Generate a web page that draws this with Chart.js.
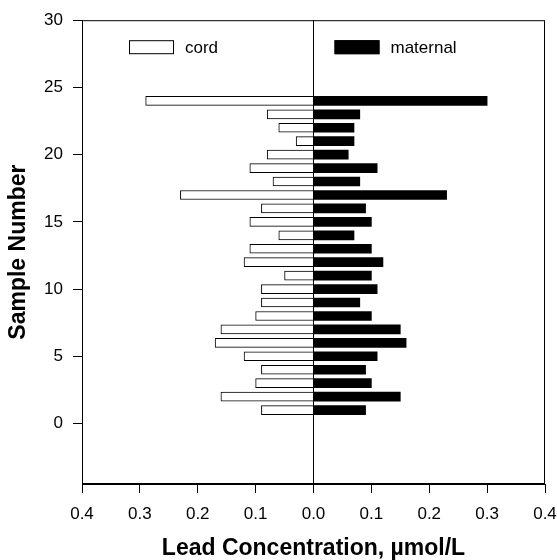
<!DOCTYPE html>
<html>
<head>
<meta charset="utf-8">
<script src="https://cdn.jsdelivr.net/npm/chart.js@4"></script>
<style>
  body { margin: 0; background: #fff; }
  #wrap { width: 557px; height: 560px; }
</style>
</head>
<body>
<div id="wrap"><canvas id="leadChart" width="557" height="560"></canvas></div>
<script>
// Cord vs maternal blood lead, one row per sample
const samples = [1, 2, 3, 4, 5, 6, 7, 8, 9, 10, 11, 12, 13, 14, 15, 16, 17, 18, 19, 20, 21, 22, 23, 24];
const cordLead = [0.09, 0.16, 0.10, 0.09, 0.12, 0.17, 0.16, 0.10, 0.09, 0.09, 0.05, 0.12,
  0.11, 0.06, 0.11, 0.09, 0.23, 0.07, 0.11, 0.08, 0.03, 0.06, 0.08, 0.29];
const maternalLead = [0.09, 0.15, 0.10, 0.09, 0.11, 0.16, 0.15, 0.10, 0.08, 0.11, 0.10, 0.12,
  0.10, 0.07, 0.10, 0.09, 0.23, 0.08, 0.11, 0.06, 0.07, 0.07, 0.08, 0.30];
const yTicks = [0, 5, 10, 15, 20, 25, 30];

const FONT = "'Liberation Sans', Arial, Helvetica, sans-serif";

// frame round the plot + legend boxes inside the plot
const framePlugin = {
  id: "frame",
  afterDraw(chart) {
    const { ctx, chartArea: a, scales } = chart;
    ctx.save();
    ctx.strokeStyle = "#000";
    ctx.lineWidth = 1;
    ctx.strokeRect(a.left + 0.5, a.top + 0.5, a.width - 1, a.height - 1);

    const zero = scales.x.getPixelForValue(0);
    const items = [
      { ds: chart.data.datasets[0], left: a.left + 47 },
      { ds: chart.data.datasets[1], left: zero + 21 },
    ];
    ctx.font = "17px " + FONT;
    ctx.textBaseline = "middle";
    ctx.textAlign = "left";
    items.forEach((it) => {
      const top = a.top + 20;
      ctx.fillStyle = it.ds.backgroundColor;
      ctx.fillRect(it.left, top, 45, 14);
      ctx.strokeRect(it.left + 0.5, top + 0.5, 44, 13);
      ctx.fillStyle = "#000";
      ctx.fillText(it.ds.label, it.left + 56, top + 8);
    });
    ctx.restore();
  },
};

new Chart(document.getElementById("leadChart"), {
  type: "bar",
  data: {
    datasets: [
      {
        label: "cord",
        data: samples.map((s, i) => ({ x: -cordLead[i], y: s })),
        backgroundColor: "#ffffff",
        borderColor: "#000000",
        borderWidth: 1,
      },
      {
        label: "maternal",
        data: samples.map((s, i) => ({ x: maternalLead[i], y: s })),
        backgroundColor: "#000000",
        borderColor: "#000000",
        borderWidth: 0,
      },
    ],
  },
  options: {
    indexAxis: "y",
    responsive: false,
    animation: false,
    grouped: false,
    barThickness: 9,
    layout: { padding: { top: 18, right: 0, left: 0, bottom: 0 } },
    plugins: {
      legend: { display: false },
      tooltip: { enabled: false },
    },
    scales: {
      x: {
        type: "linear",
        min: -0.4,
        max: 0.4,
        afterFit(axis) {
          axis.height = 76;
          axis.paddingRight = 12;
        },
        ticks: {
          stepSize: 0.1,
          padding: 11,
          color: "#000",
          font: { family: FONT, size: 17 },
          callback: (v) => Math.abs(v).toFixed(1),
        },
        grid: {
          drawOnChartArea: true,
          color: (c) => (c.tick && Math.abs(c.tick.value) < 1e-9 ? "#000" : "rgba(0,0,0,0)"),
          tickColor: "#000",
          tickLength: 9,
        },
        border: { color: "#000", width: 1 },
        title: {
          display: true,
          text: "Lead Concentration, µmol/L",
          color: "#000",
          padding: { top: 0, bottom: 0 },
          font: { family: FONT, size: 23, weight: "bold", lineHeight: 1 },
        },
      },
      y: {
        type: "linear",
        min: -4.5,
        max: 30,
        offset: false,
        afterBuildTicks(axis) {
          axis.ticks = yTicks.map((v) => ({ value: v }));
        },
        afterFit(axis) {
          axis.width = 82;
        },
        ticks: {
          padding: 10,
          color: "#000",
          font: { family: FONT, size: 17 },
        },
        grid: {
          offset: false,
          drawOnChartArea: false,
          tickColor: "#000",
          tickLength: 9,
        },
        border: { color: "#000", width: 1 },
        title: {
          display: true,
          text: "Sample Number",
          color: "#000",
          padding: { top: 7, bottom: 0 },
          font: { family: FONT, size: 23, weight: "bold", lineHeight: 1 },
        },
      },
    },
  },
  plugins: [framePlugin],
});
</script>
</body>
</html>
